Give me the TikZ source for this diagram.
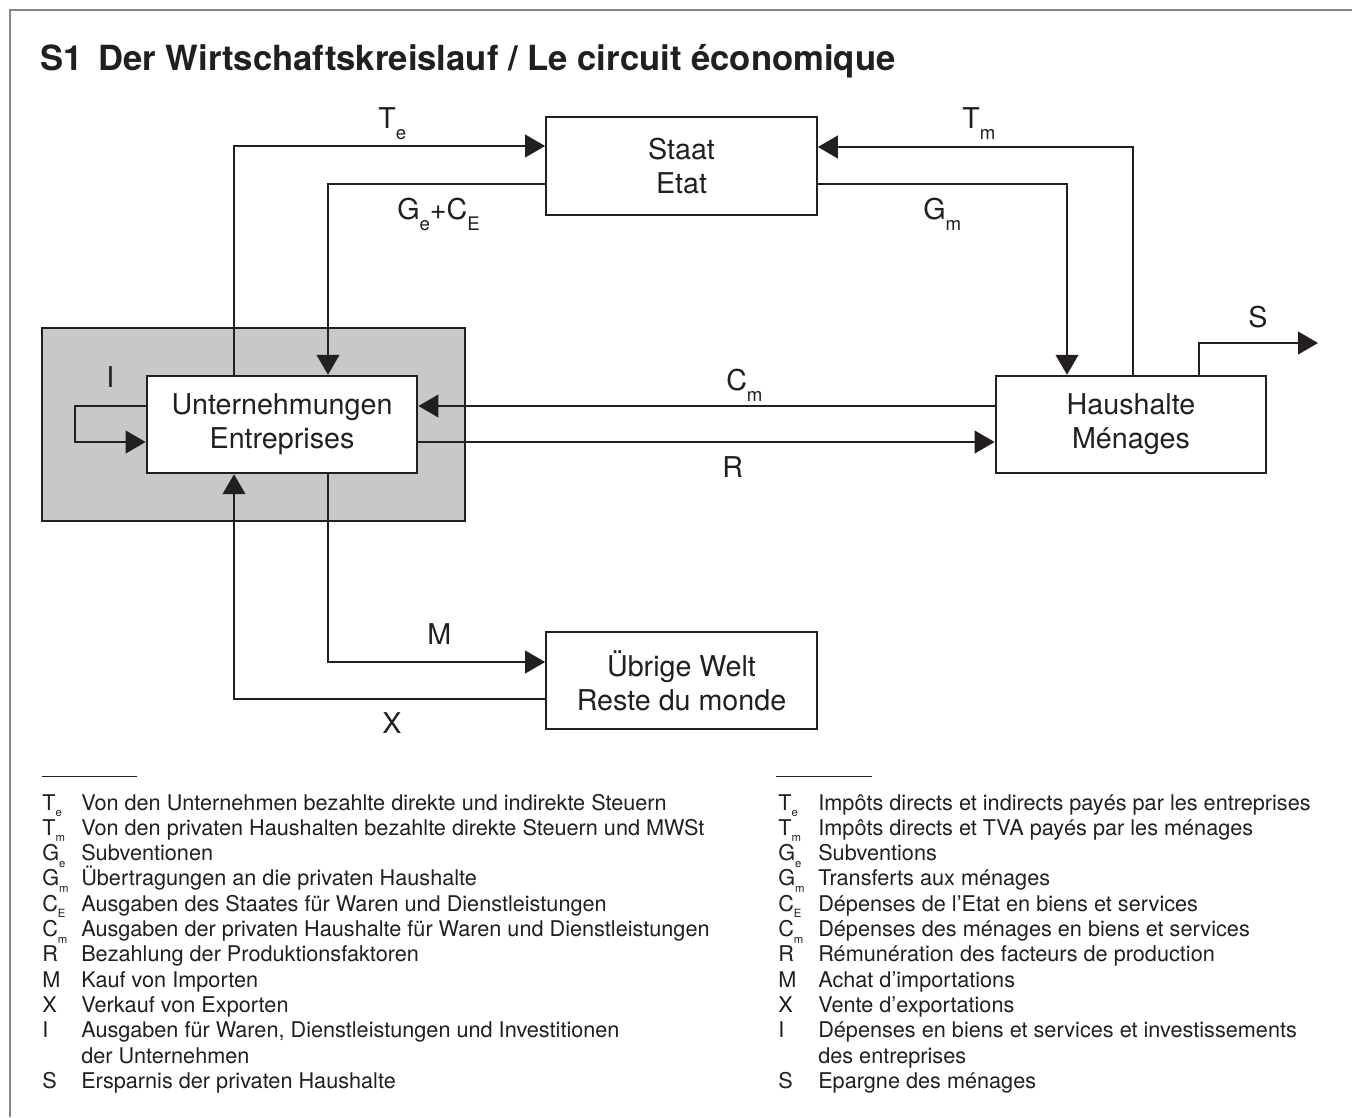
\documentclass[tikz,border=0pt]{standalone}
\usepackage{fontspec}
\setmainfont{TeX Gyre Heros}
\usetikzlibrary{arrows.meta}
\definecolor{ink}{HTML}{231F20}
\definecolor{boxgray}{HTML}{C7C8CA}
\definecolor{framegray}{HTML}{858585}
\newcommand\dsub[1]{\raisebox{-8.25pt}{\fontsize{14}{14}\selectfont #1}}
\newcommand\lsub[1]{\raisebox{-5pt}{\fontsize{8.5}{8.5}\selectfont #1}}
\begin{document}
\begin{tikzpicture}[x=0.75pt,y=-0.75pt,
  box/.style={draw=ink, line width=1.6pt, fill=white, minimum width=203pt, minimum height=73pt, inner sep=0pt, align=center, font=\fontsize{21.5}{25.5}\selectfont, text=ink},
  flow/.style={draw=ink, line width=1.6pt, -{Triangle[length=15pt,width=17pt]}},
  lbl/.style={anchor=base west, inner sep=0pt, font=\fontsize{21.5}{25.5}\selectfont, text=ink},
  leg/.style={anchor=base west, inner sep=0pt, font=\fontsize{16.25}{19}\selectfont, text=ink},
  rulestyle/.style={draw=ink, line width=0.75pt},
]
\useasboundingbox (0,0) rectangle (1352,1117);
\fill[white] (0,0) rectangle (1352,1117);
% frame
\draw[framegray, line width=1.5pt] (10,1117) -- (10,10) -- (1352,10);
% title
\node[anchor=base west, inner sep=0pt, font=\bfseries\fontsize{26}{30}\selectfont, text=ink] (title) at (40,70) {S1\hspace{0.45em}Der Wirtschaftskreislauf / Le circuit économique};

% boxes
\node[draw=ink, fill=boxgray, line width=1.6pt, minimum width=317.25pt, minimum height=144.75pt, inner sep=0pt] (G) at (253.5,424.5) {};
\node[box] (E) at (282,424.5) {Unternehmungen\\Entreprises};
\node[box] (St) at (681.5,166) {Staat\\Etat};
\node[box] (H) at (1131,424.5) {Haushalte\\Ménages};
\node[box] (W) at (681.5,680.5) {Übrige Welt\\Reste du monde};

% helper coordinates
\coordinate (te) at (234,146);
\coordinate (gec) at (328,184);
\coordinate (tm) at (1133,147);
\coordinate (gm) at (1067,184);
\coordinate (sv) at (1199,343);
\coordinate (send) at (1318,343);
\coordinate (cm) at (700,406);
\coordinate (rr) at (700,442);
\coordinate (iA) at (75,406);
\coordinate (iB) at (75,442);
\coordinate (mm) at (328,662);
\coordinate (xx) at (234,699);

% connectors
\draw[flow] (E.north -| te) |- (St.west |- te);
\draw[flow] (St.west |- gec) -| (E.north -| gec);
\draw[flow] (H.north -| tm) |- (St.east |- tm);
\draw[flow] (St.east |- gm) -| (H.north -| gm);
\draw[flow] (H.north -| sv) |- (send);
\draw[flow] (H.west |- cm) -- (E.east |- cm);
\draw[flow] (E.east |- rr) -- (H.west |- rr);
\draw[flow] (E.west |- iA) -- (iA) -- (iB) -- (E.west |- iB);
\draw[flow] (E.south -| mm) |- (W.west |- mm);
\draw[flow] (W.west |- xx) -| (E.south -| xx);

% flow labels
\node[lbl] (lTe) at (378,128) {T\dsub{e}};
\node[lbl] (lGe) at (397,219) {G\dsub{e}+C\dsub{E}};
\node[lbl] (lTm) at (962,128) {T\dsub{m}};
\node[lbl] (lGm) at (923,219) {G\dsub{m}};
\node[lbl] (lS) at (1248,327) {S};
\node[lbl] (lCm) at (726,390) {C\dsub{m}};
\node[lbl] (lR) at (722,477) {R};
\node[lbl] (lM) at (427,644) {M};
\node[lbl] (lX) at (382,733) {X};
\node[lbl] (lI) at (106,387) {I};

% legend rules
\draw[rulestyle] (42,776) -- (137,776);
\draw[rulestyle] (776,776) -- (872,776);

% left legend
\foreach \s/\t [count=\i from 0] in {
  {T\lsub{e}}/{Von den Unternehmen bezahlte direkte und indirekte Steuern},
  {T\lsub{m}}/{Von den privaten Haushalten bezahlte direkte Steuern und MWSt},
  {G\lsub{e}}/{Subventionen},
  {G\lsub{m}}/{Übertragungen an die privaten Haushalte},
  {C\lsub{E}}/{Ausgaben des Staates für Waren und Dienstleistungen},
  {C\lsub{m}}/{Ausgaben der privaten Haushalte für Waren und Dienstleistungen},
  {R}/{Bezahlung der Produktionsfaktoren},
  {M}/{Kauf von Importen},
  {X}/{Verkauf von Exporten},
  {I}/{Ausgaben für Waren, Dienstleistungen und Investitionen},
  {}/{der Unternehmen},
  {S}/{Ersparnis der privaten Haushalte}}
{
  \node[leg] (ls\i) at (42,810+25.3*\i) {\s};
  \node[leg] (lt\i) at (81,810+25.3*\i) {\t};
}
% right legend
\foreach \s/\t [count=\i from 0] in {
  {T\lsub{e}}/{Impôts directs et indirects payés par les entreprises},
  {T\lsub{m}}/{Impôts directs et TVA payés par les ménages},
  {G\lsub{e}}/{Subventions},
  {G\lsub{m}}/{Transferts aux ménages},
  {C\lsub{E}}/{Dépenses de l’Etat en biens et services},
  {C\lsub{m}}/{Dépenses des ménages en biens et services},
  {R}/{Rémunération des facteurs de production},
  {M}/{Achat d’importations},
  {X}/{Vente d’exportations},
  {I}/{Dépenses en biens et services et investissements},
  {}/{des entreprises},
  {S}/{Epargne des ménages}}
{
  \node[leg] (rs\i) at (778,810+25.3*\i) {\s};
  \node[leg] (rt\i) at (818,810+25.3*\i) {\t};
}
\end{tikzpicture}
\end{document}
